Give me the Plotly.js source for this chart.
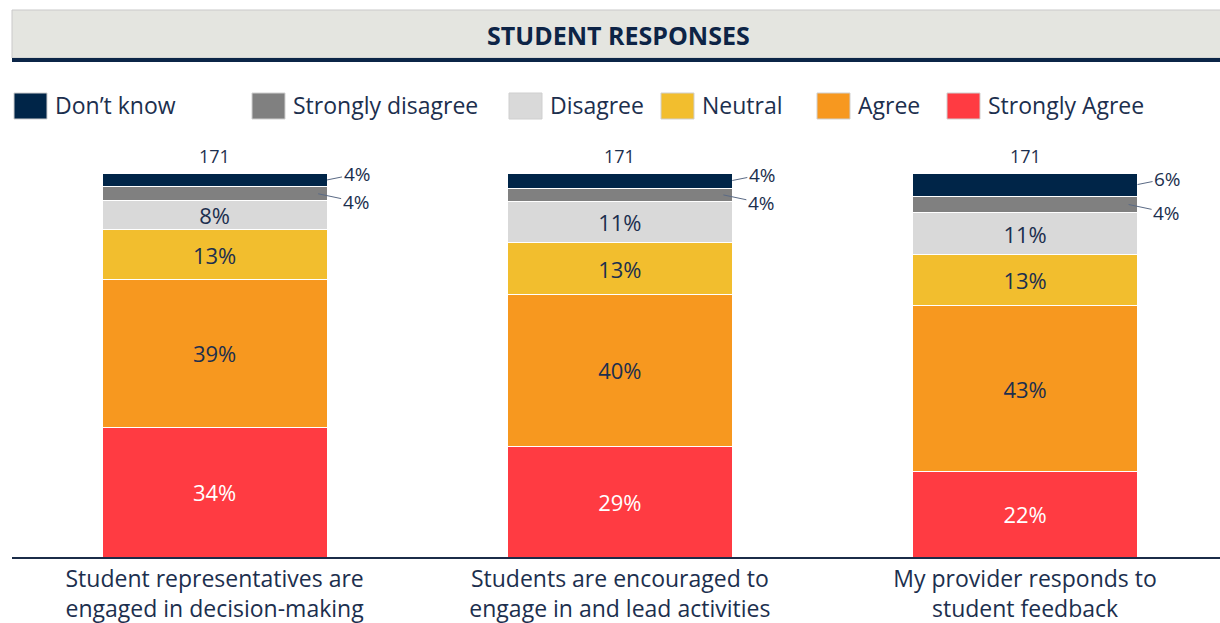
<!DOCTYPE html>
<html>
<head>
<meta charset="utf-8">
<script src="https://cdn.plot.ly/plotly-3.0.1.min.js"></script>
<style>html,body{margin:0;padding:0;background:#fff;}#chart{width:1220px;height:623px;}</style>
</head>
<body>
<div id="chart"></div>
<script>
// ---- data ----
const categories = [
  "Student representatives are<br>engaged in decision-making",
  "Students are encouraged to<br>engage in and lead activities",
  "My provider responds to<br>student feedback"
];
const respondents = [171, 171, 171];
const seriesNames = ["Don\u2019t know", "Strongly disagree", "Disagree", "Neutral", "Agree", "Strongly Agree"];
const dontKnow        = [3.6, 3.9, 6.0];
const stronglyDisagree= [3.6, 3.6, 4.4];
const disagree        = [7.6, 10.7, 10.9];
const neutral         = [12.9, 13.4, 13.3];
const agree           = [38.6, 39.6, 43.2];
const stronglyAgree   = [33.7, 28.8, 22.2];

// ---- styles ----
const colors = {
  "Don\u2019t know": "#002548",
  "Strongly disagree": "#808080",
  "Disagree": "#d9d9d9",
  "Neutral": "#f2be2e",
  "Agree": "#f7981f",
  "Strongly Agree": "#ff3b42"
};
const navy = "#1c2f4e";
const FONT = "Open Sans, sans-serif";

const W = 1220, H = 623, L = 12, R = 0, T = 140, B = 66;
const pw = W - L - R, ph = H - T - B;
const fx = px => (px - L) / pw;
const fy = py => (H - B - py) / ph;

const xIdx = categories.map((c, i) => i);
const barWidth = 0.555;

// stacking order bottom -> top
const stack = [
  ["Strongly Agree", stronglyAgree, "#ffffff", true],
  ["Agree", agree, navy, true],
  ["Neutral", neutral, navy, true],
  ["Disagree", disagree, navy, true],
  ["Strongly disagree", stronglyDisagree, navy, false],
  ["Don\u2019t know", dontKnow, navy, false]
];

const traces = stack.map(([name, vals, tcol, inside]) => ({
  type: "bar",
  name: name,
  x: xIdx,
  y: vals,
  width: barWidth,
  marker: { color: colors[name], line: { color: "#ffffff", width: 1 } },
  text: inside ? vals.map(v => Math.round(v) + "%") : vals.map(() => ""),
  textposition: inside ? "inside" : "none",
  insidetextanchor: "middle",
  textangle: 0,
  constraintext: "none",
  textfont: { family: FONT, size: 22, color: tcol },
  hoverinfo: "skip",
  showlegend: false
}));

const annotations = [];
// Title
annotations.push({
  xref: "paper", yref: "paper", x: fx(618), y: fy(35),
  text: "<b>STUDENT RESPONSES</b>", showarrow: false,
  xanchor: "center", yanchor: "middle",
  font: { family: FONT, size: 25, color: "#0d2446" }
});
// respondents count above bars
xIdx.forEach(i => {
  const total = dontKnow[i] + stronglyDisagree[i] + disagree[i] + neutral[i] + agree[i] + stronglyAgree[i];
  annotations.push({
    x: i, y: total, xref: "x", yref: "y", text: String(respondents[i]),
    showarrow: false, yanchor: "bottom", xanchor: "center", yshift: 3,
    font: { family: FONT, size: 18, color: navy }
  });
  // Don't know leader label
  annotations.push({
    x: i + barWidth / 2, y: total - dontKnow[i] / 2, xref: "x", yref: "y",
    text: Math.round(dontKnow[i]) + "%",
    showarrow: true, arrowhead: 0, arrowwidth: 1, arrowcolor: "#5a6a85",
    ax: 30, ay: -6, standoff: 0,
    font: { family: FONT, size: 19, color: navy }
  });
  // Strongly disagree leader label
  annotations.push({
    x: i + barWidth / 2 - 0.022, y: total - dontKnow[i] - stronglyDisagree[i] / 2, xref: "x", yref: "y",
    text: Math.round(stronglyDisagree[i]) + "%",
    showarrow: true, arrowhead: 0, arrowwidth: 1, arrowcolor: "#5a6a85",
    ax: 38, ay: 8, standoff: 0,
    font: { family: FONT, size: 19, color: navy }
  });
});

// Custom legend
const legendPos = [14, 252, 509, 661, 817, 947];
const shapes = [];
// title band
shapes.push({ type: "rect", xref: "paper", yref: "paper", x0: fx(12), x1: fx(1224), y0: fy(58), y1: fy(10),
  fillcolor: "#e4e5e0", line: { color: "#c9c9c9", width: 1 }, layer: "below" });
shapes.push({ type: "rect", xref: "paper", yref: "paper", x0: fx(12), x1: fx(1224), y0: fy(62), y1: fy(58),
  fillcolor: "#0b2547", line: { width: 0 } });

seriesNames.forEach((name, k) => {
  const x0 = legendPos[k];
  shapes.push({ type: "rect", xref: "paper", yref: "paper", x0: fx(x0), x1: fx(x0 + 33), y0: fy(119), y1: fy(93),
    fillcolor: colors[name], line: { color: "#cfcfcf", width: 1 } });
  annotations.push({
    xref: "paper", yref: "paper", x: fx(x0 + 39), y: fy(105), text: name,
    showarrow: false, xanchor: "left", yanchor: "middle",
    font: { family: FONT, size: 23, color: navy }
  });
});

const layout = {
  width: W, height: H,
  margin: { l: L, r: R, t: T, b: B, pad: 0 },
  paper_bgcolor: "#ffffff", plot_bgcolor: "#ffffff",
  barmode: "stack",
  showlegend: false,
  xaxis: {
    range: [-0.5, 2.481],
    tickmode: "array", tickvals: xIdx, ticktext: categories,
    showline: true, linecolor: "#1b2c48", linewidth: 2,
    showgrid: false, zeroline: false, ticks: "",
    tickfont: { family: FONT, size: 23, color: navy },
    fixedrange: true
  },
  yaxis: {
    range: [0, 108.6], showticklabels: false, showgrid: false, zeroline: false, showline: false,
    fixedrange: true
  },
  shapes: shapes,
  annotations: annotations,
  hovermode: false
};

Plotly.newPlot("chart", traces, layout, { displayModeBar: false, staticPlot: true });
</script>
</body>
</html>
